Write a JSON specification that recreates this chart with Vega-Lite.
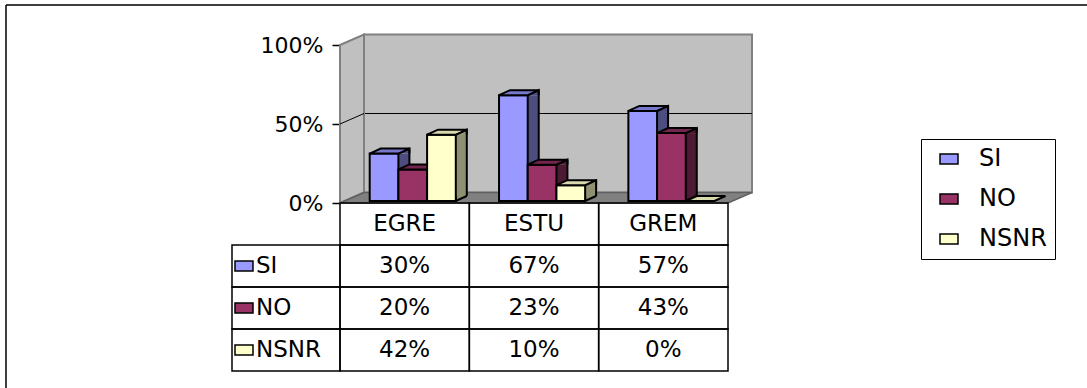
{
  "$schema": "https://vega.github.io/schema/vega-lite/v6.json",
  "autosize": {"type": "none"},
  "padding": {"left": 6, "top": 5, "right": 0, "bottom": 0},
  "width": 1081,
  "height": 383,
  "background": "white",
  "datasets": {
    "bars": [
      {"cat": "EGRE", "series": "SI", "value": 0.30},
      {"cat": "EGRE", "series": "NO", "value": 0.20},
      {"cat": "EGRE", "series": "NSNR", "value": 0.42},
      {"cat": "ESTU", "series": "SI", "value": 0.67},
      {"cat": "ESTU", "series": "NO", "value": 0.23},
      {"cat": "ESTU", "series": "NSNR", "value": 0.10},
      {"cat": "GREM", "series": "SI", "value": 0.57},
      {"cat": "GREM", "series": "NO", "value": 0.43},
      {"cat": "GREM", "series": "NSNR", "value": 0.00}
    ]
  },
  "data": {"name": "bars"},
  "config": {
    "font": "DejaVu Sans",
    "view": {"stroke": "#000", "strokeWidth": 1.5, "strokeDash": [1081, 1464, 383, 0]},
    "axisX": {"disable": true},
    "axisYBand": {"disable": true},
    "axisY": {
      "offset": -334, "domainColor": "#000", "domainWidth": 1.5,
      "tickColor": "#000", "tickWidth": 1.5, "tickSize": 8,
      "labelFont": "DejaVu Sans", "labelFontSize": 22, "labelColor": "#000",
      "labelPadding": 9, "grid": false, "zindex": 1
    },
    "legend": {
      "orient": "none", "legendX": 915, "legendY": 134,
      "strokeColor": "#000", "fillColor": "#fff", "padding": 8,
      "symbolType": "M-1,-0.55H1V0.55H-1Z", "symbolSize": 324,
      "symbolStrokeColor": "#000", "symbolStrokeWidth": 1.5,
      "labelFont": "DejaVu Sans", "labelFontSize": 24, "labelColor": "#000",
      "rowPadding": 16, "labelOffset": 18, "symbolOffset": 8
    },
    "text": {"fontSize": 23, "color": "#000"}
  },
  "layer": [
    {
      "layer": [
        {
          "data": {"values": [{}]},
          "mark": {"type": "bar", "width": {"band": 3}, "xOffset": 24, "yOffset": -10.5, "y2Offset": -10.5, "color": "#C0C0C0", "stroke": "#808080", "strokeWidth": 2},
          "encoding": {
            "x": {"datum": "ESTU", "type": "nominal", "scale": {"type": "band", "domain": ["EGRE", "ESTU", "GREM"], "range": [334, 722], "paddingInner": 0, "paddingOuter": 0}},
            "y": {"datum": 1, "type": "quantitative", "scale": {"domain": [0, 1], "range": [198, 40]}, "axis": {"values": [0, 0.5, 1], "format": ".0%", "title": null}},
            "y2": {"datum": 0}
          }
        },
        {
          "data": {"values": [{}]},
          "mark": {"type": "bar", "width": {"band": 3}, "xOffset": 24, "yOffset": -10.5, "y2Offset": -10.5, "fillOpacity": 0, "stroke": "#000", "strokeWidth": 1},
          "encoding": {
            "x": {"datum": "ESTU", "type": "nominal"},
            "y": {"datum": 0.5, "type": "quantitative"},
            "y2": {"datum": 0.5}
          }
        },
        {
          "data": {"values": [{}]},
          "mark": {"type": "point", "shape": "M-6.467,-7.9L-4.067,-8.95L-4.067,6.85L-6.467,7.9Z", "size": 400, "filled": true, "opacity": 1, "color": "#C0C0C0", "stroke": "#808080", "strokeWidth": 2},
          "encoding": {
            "x": {"datum": "EGRE", "type": "nominal"},
            "y": {"datum": 0.5, "type": "quantitative"}
          }
        },
        {
          "data": {"values": [{}]},
          "mark": {"type": "point", "shape": "M-6.467,0L-4.067,-1.05", "size": 400, "filled": false, "opacity": 1, "stroke": "#000", "strokeWidth": 1},
          "encoding": {
            "x": {"datum": "EGRE", "type": "nominal"},
            "y": {"datum": 0.5, "type": "quantitative"}
          }
        },
        {
          "data": {"values": [{}]},
          "mark": {"type": "point", "shape": "M-19.4,0L-17,-1.05L21.8,-1.05L19.4,0Z", "size": 400, "filled": true, "opacity": 1, "color": "#808080", "stroke": "#606060", "strokeWidth": 1.5},
          "encoding": {
            "x": {"datum": "ESTU", "type": "nominal"},
            "y": {"datum": 0, "type": "quantitative"}
          }
        },

        {
          "transform": [{"filter": "datum.series === 'SI' && datum.value > 0"}],
          "mark": {"type": "bar", "width": 11, "xOffset": -0.77, "yOffset": -2, "y2Offset": -7, "color": "#4D4D80"},
          "encoding": {
            "x": {"field": "cat", "type": "nominal"},
            "y": {"field": "value", "type": "quantitative"},
            "y2": {"datum": 0}
          }
        },
        {
          "transform": [{"filter": "datum.series === 'SI' && datum.value > 0"}],
          "mark": {"type": "point", "shape": "M1.435,0L2.535,-0.5L2.535,0", "size": 400, "filled": true, "opacity": 1, "color": "#4D4D80", "stroke": "#000", "strokeWidth": 2, "xOffset": -20.62, "yOffset": -2},
          "encoding": {
            "x": {"field": "cat", "type": "nominal"},
            "y": {"field": "value", "type": "quantitative"}
          }
        },
        {
          "transform": [{"filter": "datum.series === 'SI' && datum.value > 0"}],
          "mark": {"type": "point", "shape": "M1.435,-0.5L1.435,0L2.535,-0.5", "size": 400, "filled": true, "opacity": 1, "color": "#4D4D80", "stroke": "#000", "strokeWidth": 2, "xOffset": -20.62, "yOffset": -2},
          "encoding": {
            "x": {"field": "cat", "type": "nominal"},
            "y": {"datum": 0, "type": "quantitative"}
          }
        },
        {
          "transform": [{"filter": "datum.series === 'SI' && datum.value > 0"}],
          "mark": {"type": "rule", "xOffset": 4.73, "yOffset": -7, "y2Offset": -7, "stroke": "#000", "strokeWidth": 2},
          "encoding": {
            "x": {"field": "cat", "type": "nominal"},
            "y": {"field": "value", "type": "quantitative"},
            "y2": {"datum": 0}
          }
        },

        {
          "transform": [{"filter": "datum.series === 'NO' && datum.value > 0"}],
          "mark": {"type": "bar", "width": 11, "xOffset": 27.93, "yOffset": -2, "y2Offset": -7, "color": "#4D1A33"},
          "encoding": {
            "x": {"field": "cat", "type": "nominal"},
            "y": {"field": "value", "type": "quantitative"},
            "y2": {"datum": 0}
          }
        },
        {
          "transform": [{"filter": "datum.series === 'NO' && datum.value > 0"}],
          "mark": {"type": "point", "shape": "M1.435,0L2.535,-0.5L2.535,0", "size": 400, "filled": true, "opacity": 1, "color": "#4D1A33", "stroke": "#000", "strokeWidth": 2, "xOffset": 8.08, "yOffset": -2},
          "encoding": {
            "x": {"field": "cat", "type": "nominal"},
            "y": {"field": "value", "type": "quantitative"}
          }
        },
        {
          "transform": [{"filter": "datum.series === 'NO' && datum.value > 0"}],
          "mark": {"type": "point", "shape": "M1.435,-0.5L1.435,0L2.535,-0.5", "size": 400, "filled": true, "opacity": 1, "color": "#4D1A33", "stroke": "#000", "strokeWidth": 2, "xOffset": 8.08, "yOffset": -2},
          "encoding": {
            "x": {"field": "cat", "type": "nominal"},
            "y": {"datum": 0, "type": "quantitative"}
          }
        },
        {
          "transform": [{"filter": "datum.series === 'NO' && datum.value > 0"}],
          "mark": {"type": "rule", "xOffset": 33.43, "yOffset": -7, "y2Offset": -7, "stroke": "#000", "strokeWidth": 2},
          "encoding": {
            "x": {"field": "cat", "type": "nominal"},
            "y": {"field": "value", "type": "quantitative"},
            "y2": {"datum": 0}
          }
        },

        {
          "transform": [{"filter": "datum.series === 'NSNR' && datum.value > 0"}],
          "mark": {"type": "bar", "width": 11, "xOffset": 56.63, "yOffset": -2, "y2Offset": -7, "color": "#8F8F72"},
          "encoding": {
            "x": {"field": "cat", "type": "nominal"},
            "y": {"field": "value", "type": "quantitative"},
            "y2": {"datum": 0}
          }
        },
        {
          "transform": [{"filter": "datum.series === 'NSNR' && datum.value > 0"}],
          "mark": {"type": "point", "shape": "M1.435,0L2.535,-0.5L2.535,0", "size": 400, "filled": true, "opacity": 1, "color": "#8F8F72", "stroke": "#000", "strokeWidth": 2, "xOffset": 36.78, "yOffset": -2},
          "encoding": {
            "x": {"field": "cat", "type": "nominal"},
            "y": {"field": "value", "type": "quantitative"}
          }
        },
        {
          "transform": [{"filter": "datum.series === 'NSNR' && datum.value > 0"}],
          "mark": {"type": "point", "shape": "M1.435,-0.5L1.435,0L2.535,-0.5", "size": 400, "filled": true, "opacity": 1, "color": "#8F8F72", "stroke": "#000", "strokeWidth": 2, "xOffset": 36.78, "yOffset": -2},
          "encoding": {
            "x": {"field": "cat", "type": "nominal"},
            "y": {"datum": 0, "type": "quantitative"}
          }
        },
        {
          "transform": [{"filter": "datum.series === 'NSNR' && datum.value > 0"}],
          "mark": {"type": "rule", "xOffset": 62.13, "yOffset": -7, "y2Offset": -7, "stroke": "#000", "strokeWidth": 2},
          "encoding": {
            "x": {"field": "cat", "type": "nominal"},
            "y": {"field": "value", "type": "quantitative"},
            "y2": {"datum": 0}
          }
        },

        {
          "transform": [{"filter": "datum.series === 'SI'"}],
          "mark": {"type": "bar", "width": 28.7, "xOffset": -20.62, "yOffset": -2, "y2Offset": -2, "stroke": "#000", "strokeWidth": 2},
          "encoding": {
            "x": {"field": "cat", "type": "nominal"},
            "y": {"field": "value", "type": "quantitative"},
            "y2": {"datum": 0},
            "color": {"field": "series", "type": "nominal", "scale": {"domain": ["SI", "NO", "NSNR"], "range": ["#9999FF", "#993366", "#FFFFCC"]}, "legend": {"title": null}}
          }
        },
        {
          "transform": [{"filter": "datum.series === 'SI'"}],
          "mark": {"type": "point", "shape": "M-1.435,0L-0.335,-0.5L2.535,-0.5L1.435,0Z", "size": 400, "filled": true, "opacity": 1, "color": "#7777CC", "stroke": "#000", "strokeWidth": 2, "xOffset": -20.62, "yOffset": -2},
          "encoding": {
            "x": {"field": "cat", "type": "nominal"},
            "y": {"field": "value", "type": "quantitative"}
          }
        },
        {
          "transform": [{"filter": "datum.series === 'NO'"}],
          "mark": {"type": "bar", "width": 28.7, "xOffset": 8.08, "yOffset": -2, "y2Offset": -2, "stroke": "#000", "strokeWidth": 2},
          "encoding": {
            "x": {"field": "cat", "type": "nominal"},
            "y": {"field": "value", "type": "quantitative"},
            "y2": {"datum": 0},
            "color": {"field": "series", "type": "nominal", "legend": {"title": null}}
          }
        },
        {
          "transform": [{"filter": "datum.series === 'NO'"}],
          "mark": {"type": "point", "shape": "M-1.435,0L-0.335,-0.5L2.535,-0.5L1.435,0Z", "size": 400, "filled": true, "opacity": 1, "color": "#73264D", "stroke": "#000", "strokeWidth": 2, "xOffset": 8.08, "yOffset": -2},
          "encoding": {
            "x": {"field": "cat", "type": "nominal"},
            "y": {"field": "value", "type": "quantitative"}
          }
        },
        {
          "transform": [{"filter": "datum.series === 'NSNR'"}],
          "mark": {"type": "bar", "width": 28.7, "xOffset": 36.78, "yOffset": -2, "y2Offset": -2, "stroke": "#000", "strokeWidth": 2},
          "encoding": {
            "x": {"field": "cat", "type": "nominal"},
            "y": {"field": "value", "type": "quantitative"},
            "y2": {"datum": 0},
            "color": {"field": "series", "type": "nominal", "legend": {"title": null}}
          }
        },
        {
          "transform": [{"filter": "datum.series === 'NSNR'"}],
          "mark": {"type": "point", "shape": "M-1.435,0L-0.335,-0.5L2.535,-0.5L1.435,0Z", "size": 400, "filled": true, "opacity": 1, "color": "#D9D9AD", "stroke": "#000", "strokeWidth": 2, "xOffset": 36.78, "yOffset": -2},
          "encoding": {
            "x": {"field": "cat", "type": "nominal"},
            "y": {"field": "value", "type": "quantitative"}
          }
        }
      ]
    },
    {
      "layer": [
        {
          "mark": {"type": "rect", "fill": "#fff", "fillOpacity": 0, "stroke": "#000", "strokeWidth": 1.5},
          "encoding": {
            "x": {"field": "cat", "type": "nominal"},
            "y": {"field": "series", "type": "nominal", "scale": {"type": "band", "domain": ["hdr", "SI", "NO", "NSNR"], "range": [198, 366], "paddingInner": 0, "paddingOuter": 0}, "axis": null}
          }
        },
        {
          "transform": [{"filter": "datum.series === 'SI'"}],
          "mark": {"type": "rect", "fill": "#fff", "fillOpacity": 0, "stroke": "#000", "strokeWidth": 1.5},
          "encoding": {
            "x": {"field": "cat", "type": "nominal"},
            "y": {"datum": "hdr", "type": "nominal", "axis": null}
          }
        },
        {
          "transform": [{"filter": "datum.cat === 'EGRE'"}],
          "mark": {"type": "rect", "width": 108, "xOffset": -118.67, "fill": "#fff", "fillOpacity": 0, "stroke": "#000", "strokeWidth": 1.5},
          "encoding": {
            "x": {"datum": "EGRE", "type": "nominal"},
            "y": {"field": "series", "type": "nominal", "axis": null}
          }
        },
        {
          "transform": [{"filter": "datum.series === 'SI'"}],
          "mark": {"type": "text"},
          "encoding": {
            "x": {"field": "cat", "type": "nominal"},
            "y": {"datum": "hdr", "type": "nominal", "axis": null},
            "text": {"field": "cat"}
          }
        },
        {
          "mark": {"type": "text"},
          "encoding": {
            "x": {"field": "cat", "type": "nominal"},
            "y": {"field": "series", "type": "nominal", "axis": null},
            "text": {"field": "value", "type": "quantitative", "format": ".0%"}
          }
        },
        {
          "transform": [{"filter": "datum.cat === 'EGRE'"}],
          "mark": {"type": "text", "align": "left", "xOffset": -148.67},
          "encoding": {
            "x": {"datum": "EGRE", "type": "nominal"},
            "y": {"field": "series", "type": "nominal", "axis": null},
            "text": {"field": "series"}
          }
        },
        {
          "transform": [{"filter": "datum.cat === 'EGRE'"}],
          "mark": {"type": "point", "shape": "M-1,-0.55H1V0.55H-1Z", "size": 324, "filled": true, "opacity": 1, "stroke": "#000", "strokeWidth": 1.5, "xOffset": -160.67},
          "encoding": {
            "x": {"datum": "EGRE", "type": "nominal"},
            "y": {"field": "series", "type": "nominal", "axis": null},
            "color": {"field": "series", "type": "nominal", "legend": {"title": null}}
          }
        }
      ]
    }
  ],
  "resolve": {"scale": {"y": "independent"}}
}
